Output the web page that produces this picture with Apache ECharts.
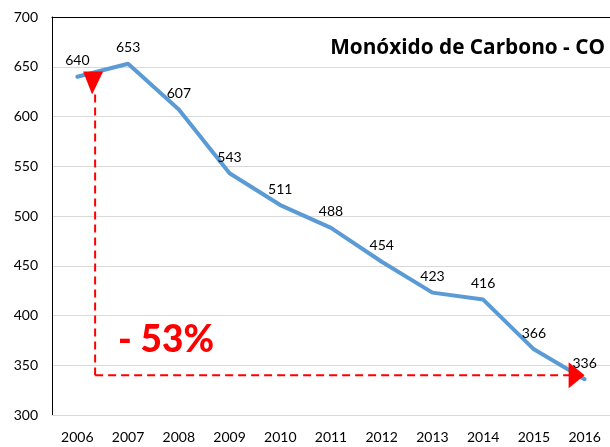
<!DOCTYPE html>
<html style="height: 100%">
   <head>
       <meta charset="utf-8">
   </head>
   <body style="height: 100%; margin: 0">
       <div id="container" style="height: 447px; width: 610px;"></div>
       <script type="text/javascript" src="https://cdn.jsdelivr.net/npm/echarts@6/dist/echarts.min.js"></script>
       <script type="text/javascript">
        var years = ['2006', '2007', '2008', '2009', '2010', '2011', '2012', '2013', '2014', '2015', '2016'];
        var coValues = [640, 653, 607, 543, 511, 488, 454, 423, 416, 366, 336];
        // arrow annotation, in data terms: x as category index, y as value
        var arrowX = 0.35;
        var arrowTop = 622;
        var arrowBase = 340;
        var arrowEnd = 10;
        var dropText = '- 53%';

        var dom = document.getElementById("container");
        var myChart = echarts.init(dom);
        var font = 'Lato, "Open Sans", sans-serif';
        var option = {
            animation: false,
            title: {
                text: 'Monóxido de Carbono - CO',
                right: 0,
                top: 33,
                textStyle: { fontFamily: '"Open Sans", sans-serif', fontSize: 20.8, fontWeight: 'bold', color: '#000' }
            },
            grid: { left: 52, right: -3, top: 17, bottom: 32 },
            xAxis: [{
                type: 'category',
                data: years,
                axisLine: { lineStyle: { color: '#d9d9d9', width: 1 } },
                axisTick: { show: false },
                axisLabel: { fontFamily: font, fontSize: 14, color: '#000', margin: 15 }
            }, {
                type: 'category',
                position: 'top',
                data: years,
                axisLine: { lineStyle: { color: '#000', width: 1 } },
                axisTick: { show: false },
                axisLabel: { show: false }
            }],
            yAxis: {
                type: 'value',
                min: 300,
                max: 700,
                interval: 50,
                axisLine: { show: true, lineStyle: { color: '#000', width: 1 } },
                axisTick: { show: false },
                splitLine: { lineStyle: { color: '#d9d9d9' } },
                axisLabel: { fontFamily: font, fontSize: 14, color: '#000', margin: 14 }
            },
            series: [{
                type: 'line',
                data: coValues,
                symbol: 'circle',
                symbolSize: 2,
                showSymbol: true,
                lineStyle: { color: '#5b9bd5', width: 4, cap: 'round' },
                itemStyle: { color: '#5b9bd5' },
                label: {
                    show: true,
                    position: 'top',
                    distance: 8,
                    fontFamily: font,
                    fontSize: 14,
                    color: '#000'
                }
            }]
        };
        myChart.setOption(option, true);

        var p0 = myChart.convertToPixel({ gridIndex: 0 }, [0, arrowBase]);
        var p1 = myChart.convertToPixel({ gridIndex: 0 }, [1, arrowTop]);
        var pe = myChart.convertToPixel({ gridIndex: 0 }, [arrowEnd, arrowBase]);
        var ax = p0[0] + (p1[0] - p0[0]) * arrowX;
        var baseY = p0[1];
        var topY = p1[1];
        var tipX = pe[0];
        var red = '#ff0000';
        var dash = { stroke: red, lineWidth: 2, lineDash: [8, 5] };

        myChart.setOption({
            graphic: [
                { type: 'line', shape: { x1: ax, y1: topY, x2: ax, y2: baseY }, style: dash, z: 10 },
                { type: 'line', shape: { x1: ax, y1: baseY, x2: tipX - 15, y2: baseY }, style: dash, z: 10 },
                { type: 'polygon', shape: { points: [[ax - 12, topY - 23], [ax + 8, topY - 23], [ax - 3, topY]] }, style: { fill: red }, z: 11 },
                { type: 'polygon', shape: { points: [[tipX - 16, baseY - 13], [tipX - 16, baseY + 13], [tipX, baseY]] }, style: { fill: red }, z: 11 },
                { type: 'text', left: 118, top: 322, style: { text: dropText, fill: red, font: '900 37px ' + font }, z: 11 }
            ]
        });
       </script>
   </body>
</html>
